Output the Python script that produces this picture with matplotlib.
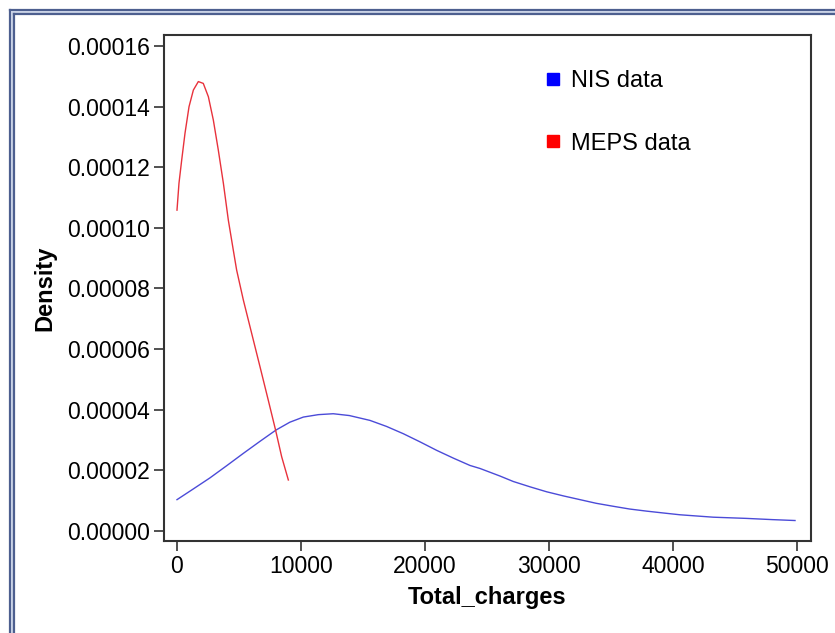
import matplotlib
matplotlib.use("Agg")
import matplotlib.pyplot as plt
from matplotlib.lines import Line2D

plt.rcParams['font.family'] = ['Liberation Sans', 'DejaVu Sans']

# values
nis_x = [0, 1300, 2660, 4000, 5350, 6700, 7980, 9100, 10190, 11400, 12600,
         13900, 15560, 16900, 18250, 19600, 20940, 22300, 23630, 24440, 26050,
         27120, 28500, 29810, 31200, 32500, 33800, 35190, 36500, 37880, 39200,
         40560, 41900, 43250, 45940, 48000, 49840]
nis_y = [1.02e-5, 1.37e-5, 1.74e-5, 2.14e-5, 2.55e-5, 2.95e-5, 3.32e-5, 3.58e-5,
         3.75e-5, 3.83e-5, 3.86e-5, 3.80e-5, 3.64e-5, 3.44e-5, 3.20e-5, 2.93e-5,
         2.65e-5, 2.39e-5, 2.15e-5, 2.05e-5, 1.80e-5, 1.62e-5, 1.44e-5, 1.28e-5,
         1.14e-5, 1.02e-5, 9.0e-6, 8.0e-6, 7.1e-6, 6.4e-6, 5.8e-6, 5.2e-6,
         4.8e-6, 4.4e-6, 4.0e-6, 3.6e-6, 3.3e-6]

meps_x = [0, 160, 380, 645, 970, 1320, 1720, 2120, 2530, 2930, 3330, 3740,
          4140, 4540, 4810, 5350, 6020, 6690, 7360, 7950, 8440, 8980]
meps_y = [1.059e-4, 1.148e-4, 1.225e-4, 1.313e-4, 1.401e-4, 1.456e-4, 1.484e-4,
          1.478e-4, 1.434e-4, 1.357e-4, 1.258e-4, 1.148e-4, 1.026e-4, 9.27e-5,
          8.61e-5, 7.62e-5, 6.52e-5, 5.42e-5, 4.31e-5, 3.32e-5, 2.44e-5, 1.67e-5]

series_names = ['NIS data', 'MEPS data']
xticks = [0, 10000, 20000, 30000, 40000, 50000]
yticks = [0, 0.00002, 0.00004, 0.00006, 0.00008, 0.0001, 0.00012, 0.00014, 0.00016]

fig = plt.figure(figsize=(8.35, 6.33), dpi=100)
fig.patch.set_facecolor('white')

# double blue frame on the top and left edge
W, H = 835.0, 633.0
for off, col, lw in [(9.5, '#4d5f8f', 1.6), (11.5, '#c9d2e6', 1.4), (13.5, '#4d5f8f', 1.6)]:
    fig.add_artist(Line2D([off / W, off / W], [0, 1 - off / H], transform=fig.transFigure,
                          color=col, lw=lw))
    fig.add_artist(Line2D([off / W, 1], [1 - off / H, 1 - off / H], transform=fig.transFigure,
                          color=col, lw=lw))

ax = fig.add_axes([164 / W, 1 - 541 / H, (811 - 164) / W, (541 - 35) / H])

ax.plot(nis_x, nis_y, color='#4b4bd8', lw=1.0, label=series_names[0])
ax.plot(meps_x, meps_y, color='#e8323c', lw=1.0, label=series_names[1])

ax.set_xlim(-1048, 51129)
ax.set_ylim(-3.47e-6, 1.638e-4)
ax.set_xticks(xticks)
ax.set_xticklabels([str(t) for t in xticks])
ax.set_yticks(yticks)
ax.set_yticklabels(['%.5f' % t for t in yticks])
ax.tick_params(direction='out', length=7, width=1.2, color='#333333',
               labelsize=16.5, pad=3)

for s in ax.spines.values():
    s.set_color('#333333')
    s.set_linewidth(1.5)

ax.set_xlabel('Total_charges', fontsize=17, fontweight='bold', labelpad=6)
ax.set_ylabel('Density', fontsize=17, fontweight='bold', labelpad=8)

handles = [Line2D([], [], ls='none', marker='s', markersize=8.5, color='#0000ff', mec='#0000ff'),
           Line2D([], [], ls='none', marker='s', markersize=8.5, color='#ff0000', mec='#ff0000')]
ax.legend(handles, series_names, loc='upper left', bbox_to_anchor=(0.558, 0.972),
          frameon=False, fontsize=17, handlelength=0.6, handletextpad=0.45,
          labelspacing=1.7)

fig.savefig('out.png', dpi=100)
